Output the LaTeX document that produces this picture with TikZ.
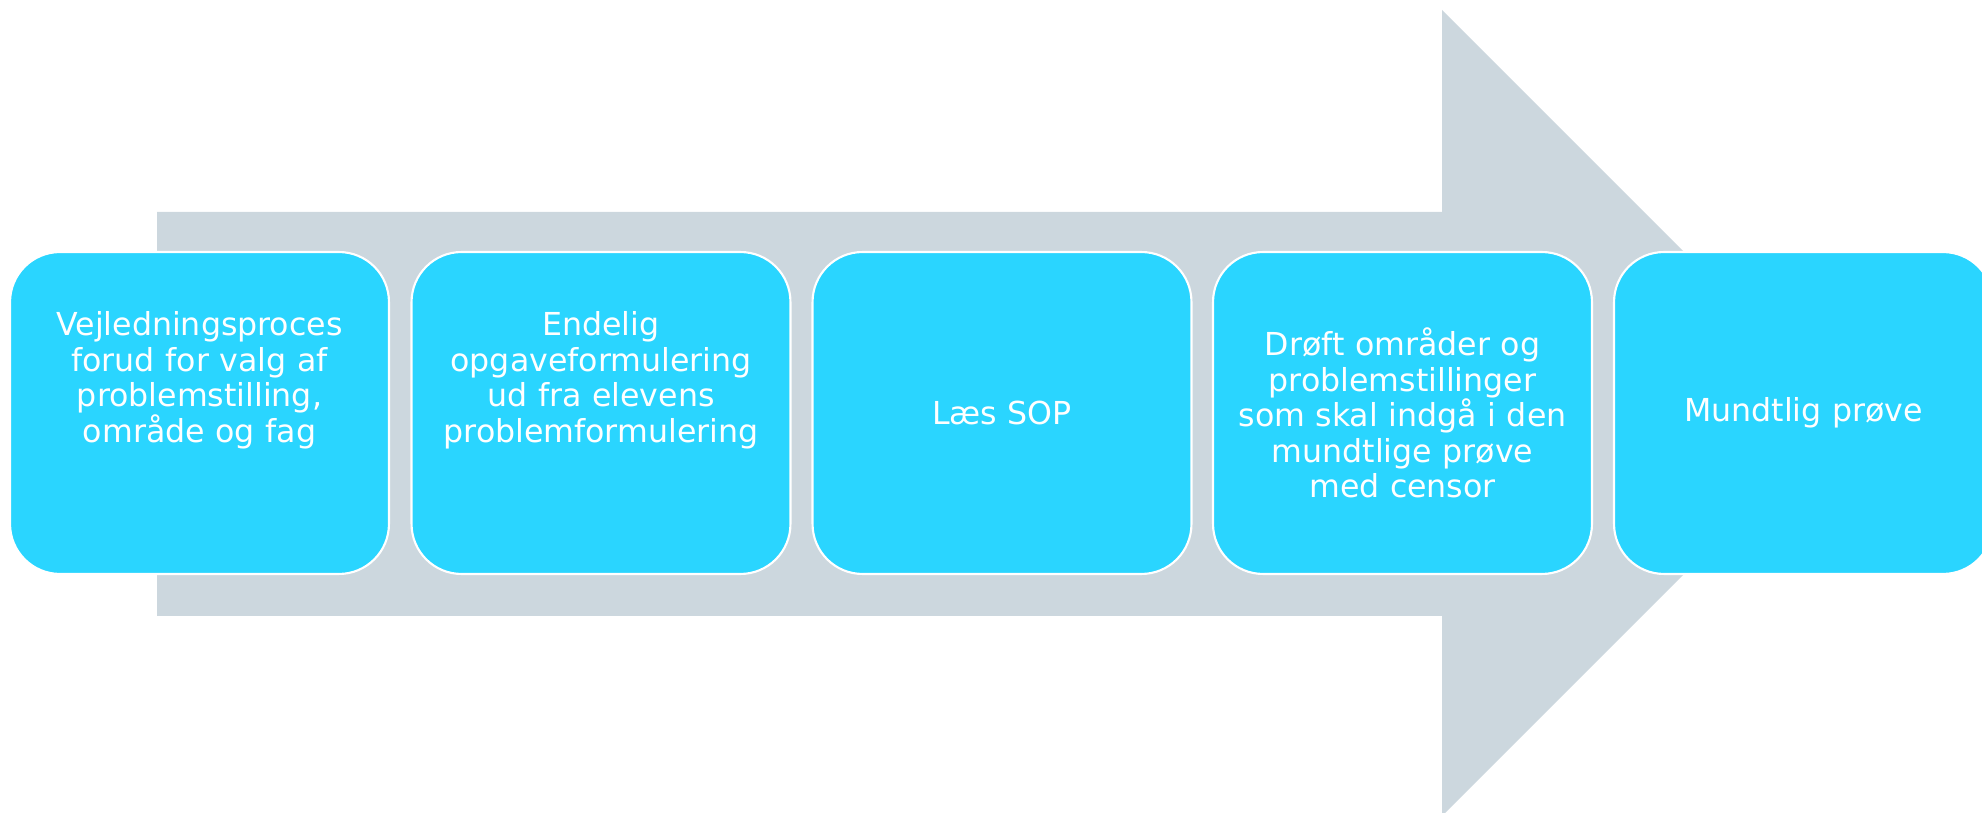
\documentclass[tikz,border=0pt]{standalone}
\usepackage{fontspec}
\setmainfont{DejaVu Sans}

\definecolor{boxcyan}{RGB}{42,213,255}
\definecolor{arrowgray}{RGB}{204,215,222}

\begin{document}
\begin{tikzpicture}[
    x=0.02cm, y=-0.02cm,
    stepbox/.style={
        draw=white,
        line width=1.2pt,
        fill=boxcyan,
        rounded corners=1cm,
        minimum width=7.58cm,
        minimum height=6.44cm,
        text width=7.4cm,
        align=center,
        inner sep=0pt,
        text=white,
        font=\fontsize{18}{20.2}\selectfont
    }
]

% Frame - the last box is cut off at the right edge
\useasboundingbox (0,0) rectangle (1982,813);
\clip (0,0) rectangle (1982,813);

% Big arrow behind the steps
\fill[arrowgray] (157,212) -- (1442,212) -- (1442,10) -- (1845,413)
    -- (1442,816) -- (1442,616) -- (157,616) -- cycle;

% Steps - the 4 line texts sit higher, hence the empty struts
\node[stepbox] (vejledning) at (199.5,413)
    {Vejledningsproces\\forud for valg af\\problemstilling,\\område og fag\\\strut\\[-0.2cm]\strut};

\node[stepbox] (opgave) at (601,413)
    {Endelig\\opgaveformulering\\ud fra elevens\\problemformulering\\\strut\\[-0.2cm]\strut};

\node[stepbox] (sop) at (1002,413) {Læs SOP};

\node[stepbox] (droeft) at (1402.5,413)
    {Drøft områder og\\problemstillinger\\som skal indgå i den\\mundtlige prøve\\med censor};

\node[stepbox] (proeve) at (1803.5,413) {Mundtlig prøve};

\end{tikzpicture}
\end{document}
